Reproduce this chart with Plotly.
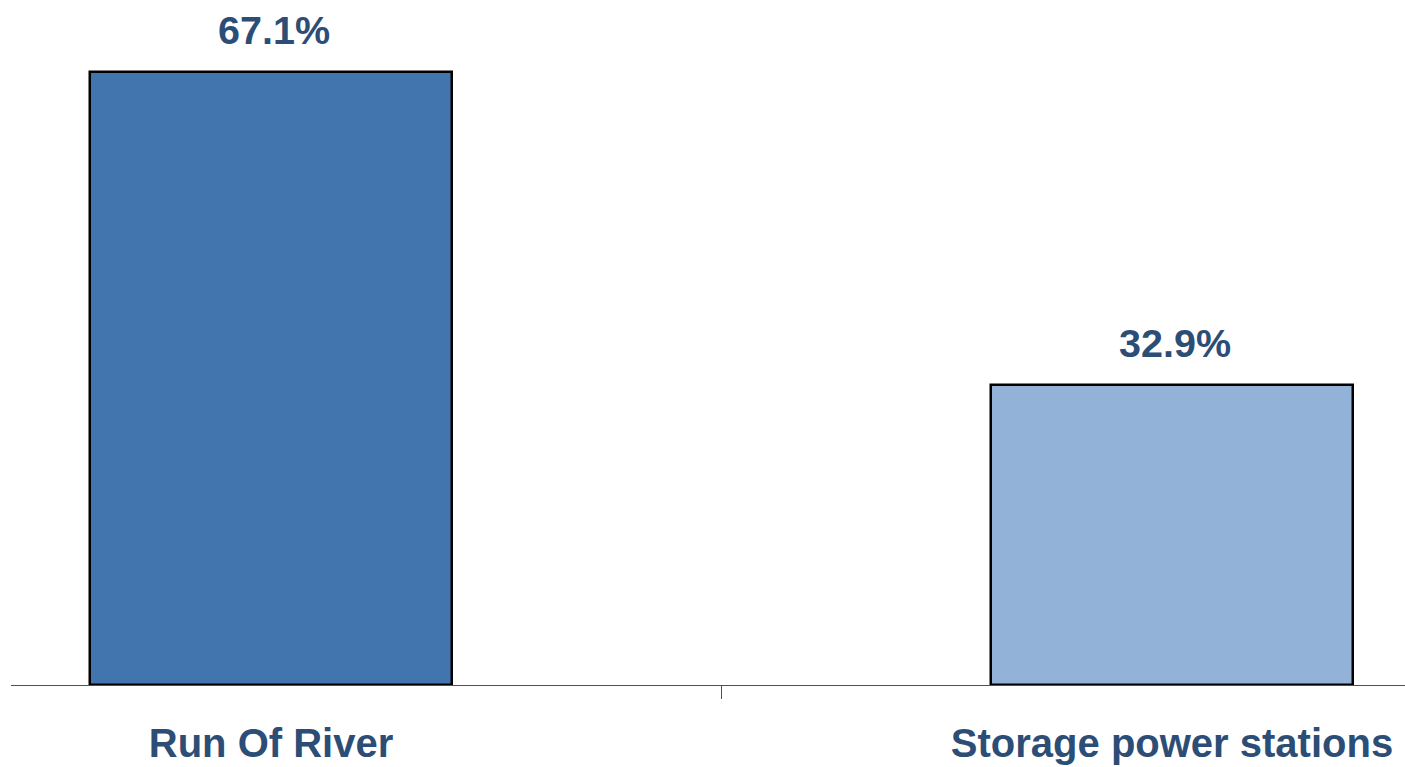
import plotly.graph_objects as go

categories = ["Run Of River", "Storage power stations"]
values = [67.1, 32.9]
value_labels = ["67.1%", "32.9%"]
bar_colors = ["rgb(66,117,174)", "rgb(146,179,215)"]

text_color = "rgb(44,78,118)"
font_family = "Liberation Sans, Arial, sans-serif"

fig = go.Figure()
fig.add_trace(go.Bar(
    x=categories,
    y=values,
    width=0.402,
    marker=dict(color=bar_colors, line=dict(color="black", width=2.5)),
    cliponaxis=False,
    hoverinfo="skip",
))

for c, v, t in zip(categories, values, value_labels):
    fig.add_annotation(
        x=c, y=v, text=f"<b>{t}</b>", showarrow=False,
        yanchor="bottom", yshift=18, xshift=3,
        font=dict(family=font_family, size=39.5, color=text_color),
    )

fig.update_layout(
    width=1405, height=767,
    margin=dict(l=11, r=0, t=0, b=82),
    paper_bgcolor="white", plot_bgcolor="white",
    showlegend=False,
    bargap=0,
)
fig.update_xaxes(
    range=[-0.2886, 1.2586],
    showline=True, linecolor="rgb(80,80,80)", linewidth=1.2,
    ticks="outside", tickson="boundaries", ticklen=13, tickcolor="rgb(80,80,80)", tickwidth=1,
    tickfont=dict(family=font_family, size=40, color=text_color),
    ticklabelstandoff=23,
    tickprefix="<b>", ticksuffix="</b>",
    showgrid=False,
)
fig.update_yaxes(range=[0, 75], visible=False, showgrid=False, zeroline=False)

fig.write_html("out.html")
